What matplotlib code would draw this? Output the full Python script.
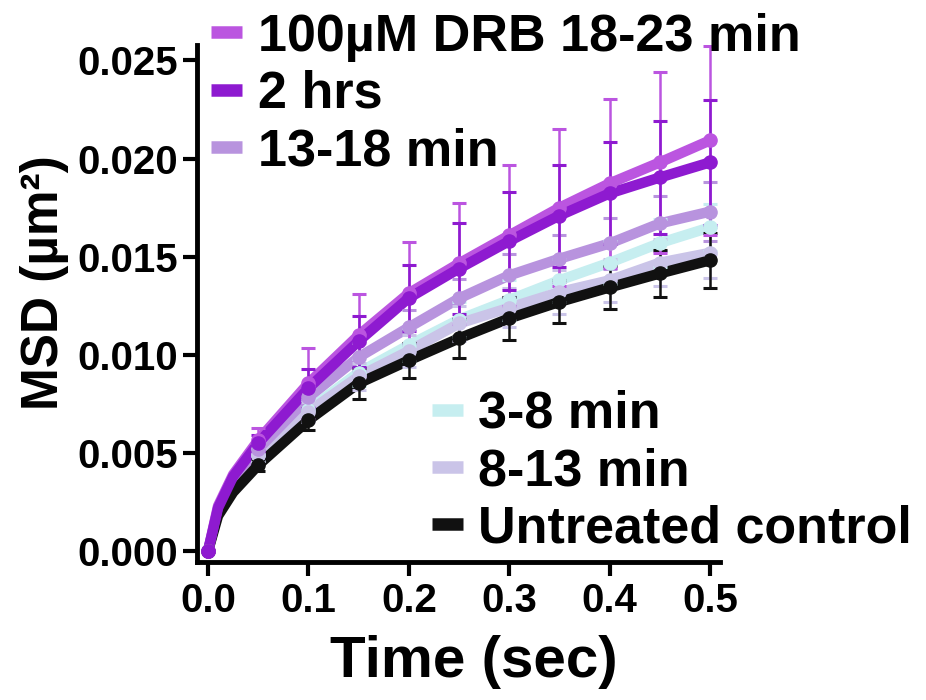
import numpy as np
import matplotlib
matplotlib.use("Agg")
import matplotlib.pyplot as plt
from matplotlib.lines import Line2D

plt.rcParams['font.family'] = ['Liberation Sans', 'DejaVu Sans']
plt.rcParams['font.weight'] = 'bold'

# time points with error bars (sec)
t = [0.0, 0.05, 0.1, 0.15, 0.2, 0.25, 0.3, 0.35, 0.4, 0.45, 0.5]
# extra readings of the curves close to the origin
t_early = [0.01, 0.025]

names = ['100\u00b5M DRB 18-23 min', '2 hrs', '13-18 min',
         '3-8 min', '8-13 min', 'Untreated control']
colors = ['#bb55e0', '#8e1ad0', '#b893de', '#c6eef0', '#cac4e8', '#111111']

drb = [0, 0.00565, 0.00855, 0.0110, 0.01314, 0.01466, 0.01609, 0.0175, 0.01874, 0.01981, 0.02093]
drb_err = [0, 0.0006, 0.0018, 0.0021, 0.0026, 0.0031, 0.0036, 0.0040, 0.0043, 0.0046, 0.0048]
drb_early = [0.0023, 0.0039]

hrs2 = [0, 0.0055, 0.0083, 0.0107, 0.0129, 0.0144, 0.0158, 0.0171, 0.01823, 0.01904, 0.01981]
hrs2_err = [0, 0.0004, 0.0010, 0.0013, 0.0017, 0.0023, 0.0025, 0.0026, 0.0026, 0.0029, 0.0032]
hrs2_early = [0.0022, 0.0038]

m13 = [0, 0.0052, 0.00784, 0.00988, 0.0114, 0.01288, 0.01405, 0.0149, 0.01568, 0.0167, 0.0173]
m13_err = [0, 0.0003, 0.0005, 0.0007, 0.0009, 0.0010, 0.0011, 0.0012, 0.0013, 0.0014, 0.0015]
m13_early = [0.0021, 0.0036]

m3 = [0, 0.0049, 0.0072, 0.0091, 0.0105, 0.0118, 0.0128, 0.0138, 0.0147, 0.0157, 0.0165]
m3_err = [0, 0.0003, 0.0005, 0.0007, 0.0008, 0.0009, 0.0010, 0.0011, 0.0011, 0.0012, 0.0012]
m3_early = [0.0020, 0.0034]

m8 = [0, 0.0049, 0.0071, 0.0089, 0.0102, 0.0116, 0.0124, 0.0132, 0.0138, 0.0147, 0.0152]
m8_err = [0, 0.0003, 0.0005, 0.0007, 0.0008, 0.0009, 0.0010, 0.0011, 0.0011, 0.0012, 0.0013]
m8_early = [0.0020, 0.0034]

ctrl = [0, 0.00438, 0.00667, 0.00855, 0.00972, 0.01084, 0.01186, 0.0127, 0.01344, 0.01415, 0.01482]
ctrl_err = [0, 0.0003, 0.0005, 0.0008, 0.0009, 0.0010, 0.0011, 0.0011, 0.0011, 0.0012, 0.0014]
ctrl_early = [0.0018, 0.0030]

series = [
    (m3, m3_err, m3_early, 3),
    (m8, m8_err, m8_early, 4),
    (m13, m13_err, m13_early, 2),
    (ctrl, ctrl_err, ctrl_early, 5),
    (drb, drb_err, drb_early, 0),
    (hrs2, hrs2_err, hrs2_early, 1),
]

fig = plt.figure(figsize=(9.26, 7.0), dpi=100)
ax = fig.add_axes([0.2127, 0.197, 0.565, 0.739])

for vals, err, early, ci in series:
    c = colors[ci]
    tl = [t[0]] + t_early + t[1:]
    vl = [vals[0]] + early + vals[1:]
    ax.plot(tl, vl, color=c, lw=7.5, solid_capstyle='round', zorder=2)
    ax.errorbar(t, vals, yerr=err, fmt='o', color=c, ms=9.5, elinewidth=1.8,
                capsize=5, capthick=2.2, zorder=3)

ax.set_xlim(-0.011, 0.51)
ax.set_ylim(-0.00056, 0.0258)
ax.set_xticks([0.0, 0.1, 0.2, 0.3, 0.4, 0.5])
ax.set_xticklabels(['0.0', '0.1', '0.2', '0.3', '0.4', '0.5'])
ax.set_yticks([0.0, 0.005, 0.01, 0.015, 0.02, 0.025])
ax.set_yticklabels(['0.000', '0.005', '0.010', '0.015', '0.020', '0.025'])
ax.tick_params(width=3, length=10, labelsize=29, pad=4)
for lab in ax.get_xticklabels() + ax.get_yticklabels():
    lab.set_fontweight('bold')
for s in ['top', 'right']:
    ax.spines[s].set_visible(False)
for s in ['left', 'bottom']:
    ax.spines[s].set_linewidth(3.5)

ax.set_xlabel('Time (sec)', fontsize=42, fontweight='bold')
ax.set_ylabel('MSD (\u00b5m\u00b2)', fontsize=37, fontweight='bold')
ax.xaxis.set_label_coords(0.53, -0.14)
ax.yaxis.set_label_coords(-0.245, 0.54)

def handles(idx):
    return [Line2D([0], [0], color=colors[i], lw=9, solid_capstyle='butt') for i in idx]

leg1 = fig.legend(handles([0, 1, 2]), [names[i] for i in [0, 1, 2]],
                  loc='upper left', bbox_to_anchor=(0.228, 0.982), frameon=False,
                  prop={'size': 37.5, 'weight': 'bold'}, handlelength=0.6,
                  handletextpad=0.3, labelspacing=0.16, borderpad=0, borderaxespad=0)
leg2 = fig.legend(handles([3, 4, 5]), [names[i] for i in [3, 4, 5]],
                  loc='upper left', bbox_to_anchor=(0.466, 0.443), frameon=False,
                  prop={'size': 37.5, 'weight': 'bold'}, handlelength=0.6,
                  handletextpad=0.3, labelspacing=0.16, borderpad=0, borderaxespad=0)

fig.savefig('out.png', dpi=100)
